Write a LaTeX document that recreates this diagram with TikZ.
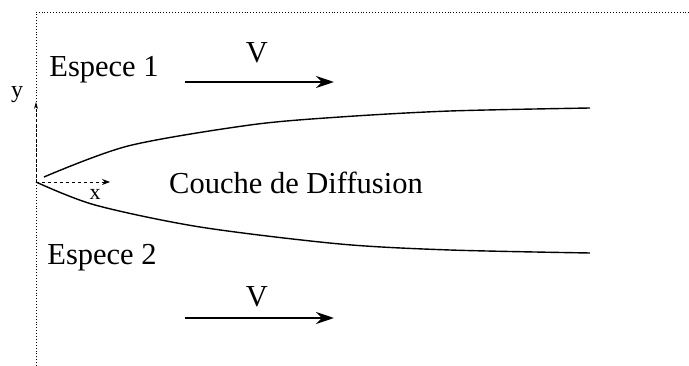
\documentclass[tikz,border=0pt]{standalone}
\usepackage{fontspec}
\setmainfont{Liberation Serif}
\usetikzlibrary{arrows.meta,positioning}

\begin{document}
\begin{tikzpicture}[x=1pt,y=-1pt,font=\fontsize{30.5}{33}\selectfont]
    \useasboundingbox (0,0) rectangle (689,366);
    % frame and axes
    \draw[dotted,line width=0.9pt] (36,366) -- (36,12) -- (689,12);
    \coordinate (o) at (36,182);
    \coordinate (xtip) at (110,182);
    \coordinate (ytip) at (36,102);
    \draw[dashed,line width=0.9pt,-{Stealth[length=8pt,width=6pt]}] (o) -- (xtip);
    \draw[densely dashed,line width=0.9pt,-{Stealth[length=7pt,width=4pt]}] (o) -- (ytip);
    \node[font=\fontsize{24}{26}\selectfont] (ylab) at (17,95) {y};
    \node[font=\fontsize{22}{24}\selectfont] (xlab) at (95,194) {x};
    % edges of the layer
    \draw[line width=1.4pt] plot[smooth,tension=0.5] coordinates
      {(44,177) (128,146) (250,125) (340,117) (450,111) (590,108)};
    \draw[line width=1.4pt] plot[smooth,tension=0.5] coordinates
      {(36,182) (95,205) (200,227) (340,244) (450,250) (590,253)};
    \node (couche) at (296,183) {Couche de Diffusion};
    \node (esp1) at (104,70) {Espece 1};
    \node (esp2) at (102,258) {Espece 2};
    % velocity arrows
    \foreach \n/\y/\ly in {a/82/53, b/318/297}{
      \coordinate (v\n s) at (185,\y);
      \coordinate (v\n e) at (334,\y);
      \draw[line width=2.4pt,-{Stealth[length=18pt,width=12pt,inset=6pt]}] (v\n s) -- (v\n e);
      \node (v\n lab) at (257,\ly) {V};}
\end{tikzpicture}
\end{document}
